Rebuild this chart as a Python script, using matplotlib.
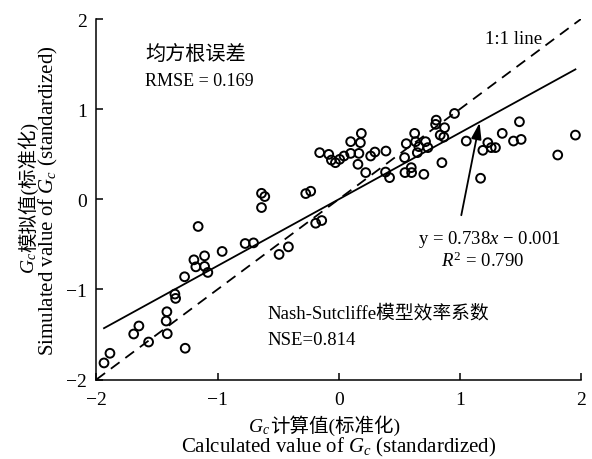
import numpy as np
import matplotlib
matplotlib.use("Agg")
import matplotlib.pyplot as plt

plt.rcParams['font.family'] = ['Liberation Serif', 'Noto Sans CJK SC']
plt.rcParams['mathtext.fontset'] = 'custom'
plt.rcParams['mathtext.rm'] = 'Liberation Serif'
plt.rcParams['mathtext.it'] = 'Liberation Serif:italic'
plt.rcParams['axes.unicode_minus'] = True

# calculated (standardized) Gc
calc_gc = [-1.937, -1.888, -1.692, -1.649, -1.569, -1.418, -1.424, -1.415, -1.267, -1.352,
           -1.346, -1.272, -1.195, -1.179, -1.107, -1.107, -1.080, -1.160, -0.962, -0.772,
           -0.703, -0.637, -0.610, -0.637, -0.492, -0.415, -0.272, -0.231, -0.190, -0.140,
           -0.157, -0.082, -0.060, -0.027, 0.008, 0.044, 0.099, 0.167, 0.099, 0.179,
           0.187, 0.159, 0.223, 0.264, 0.299, 0.390, 0.387, 0.420, 0.544, 0.558,
           0.547, 0.599, 0.602, 0.627, 0.635, 0.662, 0.717, 0.649, 0.736, 0.703,
           0.805, 0.800, 0.874, 0.838, 0.868, 0.956, 1.053, 0.852, 1.171, 1.190,
           1.231, 1.259, 1.294, 1.350, 1.443, 1.492, 1.506, 1.808, 1.954]
# simulated (standardized) Gc
sim_gc = [-1.816, -1.709, -1.495, -1.406, -1.584, -1.248, -1.351, -1.492, -1.653, -1.052,
          -1.100, -0.860, -0.672, -0.750, -0.628, -0.745, -0.812, -0.302, -0.579, -0.491,
          -0.484, 0.066, 0.030, -0.092, -0.612, -0.528, 0.063, 0.089, -0.266, -0.236,
          0.517, 0.498, 0.435, 0.406, 0.443, 0.480, 0.509, 0.509, 0.639, 0.628,
          0.731, 0.388, 0.296, 0.480, 0.524, 0.535, 0.302, 0.240, 0.462, 0.617,
          0.296, 0.351, 0.296, 0.731, 0.639, 0.584, 0.639, 0.517, 0.573, 0.277,
          0.878, 0.831, 0.794, 0.712, 0.690, 0.952, 0.646, 0.406, 0.233, 0.543,
          0.628, 0.573, 0.573, 0.731, 0.646, 0.860, 0.664, 0.491, 0.712]

slope = 0.738
intercept = -0.001
ticks = [-2, -1, 0, 1, 2]

x = np.array(calc_gc)
y = np.array(sim_gc)

fig = plt.figure(figsize=(5.92, 4.6), dpi=100)
ax = fig.add_axes([0.1628, 0.1728, 0.8186, 0.7837])

ax.plot([-2, 2], [-2, 2], color='k', lw=1.3, linestyle=(0, (6, 4)))
xf = np.array([x.min(), x.max()])
ax.plot(xf, slope * xf + intercept, color='k', lw=1.3)
ax.scatter(x, y, s=40, facecolors='none', edgecolors='k', linewidths=1.4, zorder=3)

ax.set_xlim(-2, 2)
ax.set_ylim(-2, 2)
ax.set_xticks(ticks)
ax.set_yticks(ticks)
ax.spines['top'].set_visible(False)
ax.spines['right'].set_visible(False)
for s in ['left', 'bottom']:
    ax.spines[s].set_linewidth(1.1)
ax.tick_params(direction='in', length=5, width=1.1, labelsize=14)
ax.tick_params(axis='x', pad=8)
ax.tick_params(axis='y', pad=7)

# annotations
ax.text(-1.599, 1.617, '均方根误差', fontsize=14.5, ha='left', va='center',
        family='Noto Sans CJK SC')
ax.text(-1.599, 1.270, 'RMSE = 0.169', fontsize=13, ha='left', va='baseline')
ax.text(1.209, 1.735, '1:1 line', fontsize=13.5, ha='left', va='baseline')
ax.text(0.651, -0.480, 'y = 0.738$x$ − 0.001', fontsize=13.5, ha='left', va='baseline')
ax.text(0.847, -0.745, '$R^2$ = 0.790', fontsize=13.5, ha='left', va='baseline')
ax.text(-0.585, -1.310, 'Nash-Sutcliffe模型效率系数', fontsize=13.5, ha='left', va='baseline')
ax.text(-0.585, -1.606, 'NSE=0.814', fontsize=13.5, ha='left', va='baseline')

ax.annotate('', xy=(1.163, 0.849), xytext=(1.012, -0.177),
            arrowprops=dict(arrowstyle='-|>,head_length=0.7,head_width=0.22',
                            color='k', lw=1.3, mutation_scale=14, shrinkA=0, shrinkB=0))

# axis labels (Gc in italics + Chinese)
tr = ax.transAxes
ax.text(0.358, -0.143, '$G_c$', transform=tr, fontsize=14, ha='right', va='baseline')
ax.text(0.358, -0.143, '计算值(标准化)', transform=tr, fontsize=14, ha='left', va='baseline')
ax.text(0.5, -0.201, 'Calculated value of $G_c$ (standardized)', transform=tr,
        fontsize=15, ha='center', va='baseline')

ax.text(-0.1288, 0.356, '$G_c$', transform=tr, fontsize=14, ha='right', va='baseline',
        rotation=90, rotation_mode='anchor')
ax.text(-0.1288, 0.356, '模拟值(标准化)', transform=tr, fontsize=14, ha='left', va='baseline',
        rotation=90, rotation_mode='anchor')
ax.text(-0.0885, 0.5, 'Simulated value of $G_c$ (standardized)', transform=tr,
        fontsize=15, ha='center', va='baseline', rotation=90, rotation_mode='anchor')

fig.savefig('out.png', dpi=100)
